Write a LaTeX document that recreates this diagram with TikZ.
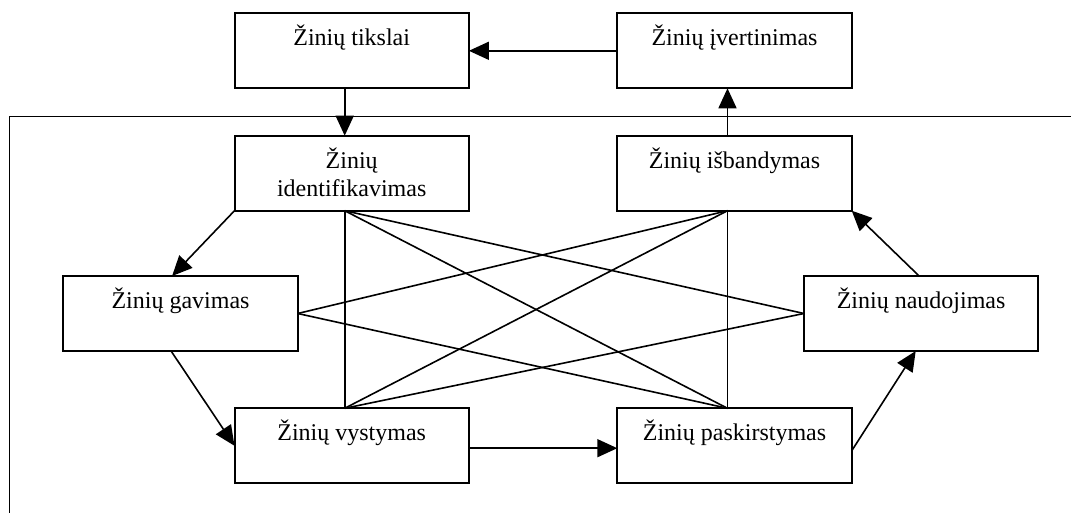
\documentclass[tikz,border=0pt]{standalone}
\usepackage{fontspec}
\setmainfont{Liberation Serif}
\usetikzlibrary{arrows.meta}
\begin{document}
\begin{tikzpicture}[x=0.5pt,y=-0.5pt,
  box/.style={draw, line width=1pt, minimum width=117.2pt, minimum height=37.5pt, inner sep=0pt, outer sep=0pt},
  lbl/.style={font=\fontsize{12pt}{14.2pt}\selectfont, inner sep=0pt, align=center, anchor=base},
  con/.style={line width=0.8pt},
  arr/.style={con, -{Triangle[length=10pt,width=9pt]}},
]
\useasboundingbox (0,0) rectangle (1071,513);
% boxes
\node[box] (tik) at (351.7,50.8) {};
\node[box] (ive) at (734.5,50.8) {};
\node[box] (ide) at (351.7,173.2) {};
\node[box] (isb) at (734.5,173.2) {};
\node[box] (gav) at (180.5,313.5) {};
\node[box] (nau) at (921.1,313.5) {};
\node[box] (vys) at (351.7,445.8) {};
\node[box] (pas) at (734.5,445.8) {};
% labels
\node[lbl] (tik-t) at ([yshift=-16.25pt]tik.north) {Žinių tikslai};
\node[lbl] (ive-t) at ([yshift=-16.25pt]ive.north) {Žinių įvertinimas};
\node[lbl] (ide-t) at ([yshift=-30.45pt]ide.north) {Žinių\\identifikavimas};
\node[lbl] (isb-t) at ([yshift=-16.25pt]isb.north) {Žinių išbandymas};
\node[lbl] (gav-t) at ([yshift=-16.25pt]gav.north) {Žinių gavimas};
\node[lbl] (nau-t) at ([yshift=-16.25pt]nau.north) {Žinių naudojimas};
\node[lbl] (vys-t) at ([yshift=-16.25pt]vys.north) {Žinių vystymas};
\node[lbl] (pas-t) at ([yshift=-16.25pt]pas.north) {Žinių paskirstymas};
% frame
\coordinate (f1) at (9.3,513);
\coordinate (f2) at (9.3,116.7);
\coordinate (f3) at (1071,116.7);
\draw[con] (f1) -- (f2) -- (f3);
% connection points
\coordinate (tik-s) at ([xshift=-3.5pt]tik.south);
\coordinate (ide-n) at ([xshift=-3.5pt]ide.north);
\coordinate (ide-s) at ([xshift=-3.5pt]ide.south);
\coordinate (isb-n) at ([xshift=-3.5pt]isb.north);
\coordinate (isb-s) at ([xshift=-3.5pt]isb.south);
\coordinate (ive-s) at ([xshift=-3.5pt]ive.south);
\coordinate (vys-n) at ([xshift=-3.5pt]vys.north);
\coordinate (pas-n) at ([xshift=-3.5pt]pas.north);
\coordinate (gav-n) at ([xshift=-4.2pt]gav.north);
\coordinate (gav-s) at ([xshift=-4.7pt]gav.south);
\coordinate (nau-n) at ([xshift=-1pt]nau.north);
\coordinate (nau-s) at ([xshift=-2.7pt]nau.south);
\coordinate (vys-e) at ([yshift=-1.2pt]vys.east);
\coordinate (pas-w) at ([yshift=-1.2pt]pas.west);
\coordinate (pas-e) at ([yshift=-2.5pt]pas.east);
% arrows
\draw[arr] (tik-s) -- (ide-n);
\draw[arr] (ive.west) -- (tik.east);
\draw[arr] (isb-n) -- (ive-s);
\draw[arr] (ide.south west) -- (gav-n);
\draw[arr] (gav-s) -- (vys.west);
\draw[arr] (vys-e) -- (pas-w);
\draw[arr] (pas-e) -- (nau-s);
\draw[arr] (nau-n) -- (isb.south east);
% crossing lines
\draw[con] (ide-s) -- (vys-n);
\draw[con] (ide-s) -- (nau.west);
\draw[con] (ide-s) -- (pas-n);
\draw[con] (isb-s) -- (pas-n);
\draw[con] (isb-s) -- (gav.east);
\draw[con] (isb-s) -- (vys-n);
\draw[con] (gav.east) -- (pas-n);
\draw[con] (nau.west) -- (vys-n);
\end{tikzpicture}
\end{document}
